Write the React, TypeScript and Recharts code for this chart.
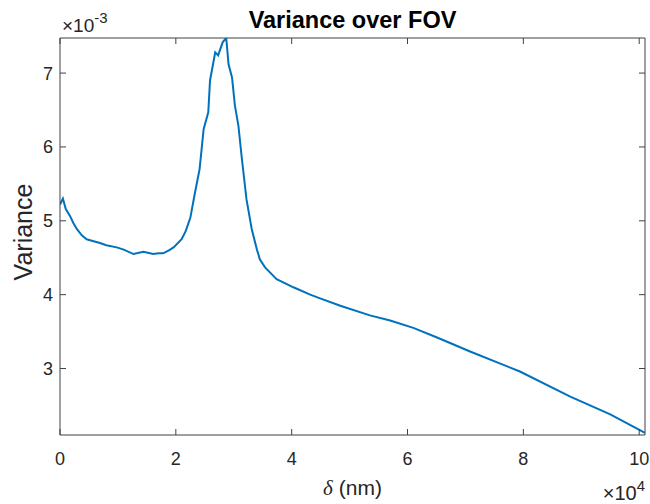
import React from "react";
import { LineChart, Line, XAxis, YAxis } from "recharts";

// delta in nm, variance (raw)
const deltaNm = [
  0, 500, 1000, 1700, 2300, 2900, 3800, 4600, 5500, 6900, 8000, 9800, 11000,
  12700, 14400, 16100, 17000, 17800, 18800, 19600, 21000, 21700, 22500, 23300,
  24100, 24800, 25600, 25900, 26800, 27300, 28100, 28700, 29100, 29700, 30200,
  30800, 31400, 32200, 33100, 34000, 34500, 35400, 37400, 40300, 43200, 44900,
  48400, 53500, 57000, 61000, 65100, 70800, 79400, 88100, 95000, 101000,
];
const variance = [
  5.22e-3, 5.3e-3, 5.16e-3, 5.07e-3, 4.97e-3, 4.89e-3, 4.8e-3, 4.75e-3,
  4.73e-3, 4.7e-3, 4.67e-3, 4.64e-3, 4.61e-3, 4.55e-3, 4.58e-3, 4.55e-3,
  4.56e-3, 4.56e-3, 4.6e-3, 4.64e-3, 4.75e-3, 4.86e-3, 5.04e-3, 5.38e-3,
  5.7e-3, 6.24e-3, 6.47e-3, 6.9e-3, 7.28e-3, 7.24e-3, 7.42e-3, 7.475e-3,
  7.12e-3, 6.94e-3, 6.56e-3, 6.29e-3, 5.84e-3, 5.29e-3, 4.89e-3, 4.61e-3,
  4.48e-3, 4.37e-3, 4.21e-3, 4.1e-3, 4.0e-3, 3.95e-3, 3.85e-3, 3.72e-3,
  3.65e-3, 3.55e-3, 3.42e-3, 3.23e-3, 2.96e-3, 2.62e-3, 2.38e-3, 2.13e-3,
];
const xTicks = [0, 20000, 40000, 60000, 80000, 100000];
const yTicks = [3e-3, 4e-3, 5e-3, 6e-3, 7e-3];

const data = deltaNm.map((d, i) => ({ delta: d, variance: variance[i] }));

const AXIS = "#404040";
const TEXT = "#262626";
const FONT = "'Liberation Sans', Arial, sans-serif";
const TICK_LEN = 6;

const BottomTick = ({ x, y, payload }: any) => (
  <g>
    <line x1={x} y1={y} x2={x} y2={y - TICK_LEN} stroke={AXIS} />
    <text x={x} y={y + 30} textAnchor="middle" fill={TEXT} fontSize={18} fontFamily={FONT}>
      {Math.round(payload.value / 1e4)}
    </text>
  </g>
);

const TopTick = ({ x, y }: any) => (
  <line x1={x} y1={y} x2={x} y2={y + TICK_LEN} stroke={AXIS} />
);

const LeftTick = ({ x, y, payload }: any) => (
  <g>
    <line x1={x} y1={y} x2={x + TICK_LEN} y2={y} stroke={AXIS} />
    <text x={x - 7} y={y + 6.5} textAnchor="end" fill={TEXT} fontSize={18} fontFamily={FONT}>
      {Math.round(payload.value * 1e3)}
    </text>
  </g>
);

const RightTick = ({ x, y }: any) => (
  <line x1={x} y1={y} x2={x - TICK_LEN} y2={y} stroke={AXIS} />
);

export default function App() {
  return (
    <div style={{ position: "absolute", left: 0, top: 0, width: 650, height: 504, background: "#fff" }}>
      <LineChart
        width={650}
        height={504}
        data={data}
        margin={{ top: 37, right: 4, bottom: 39, left: 0 }}
      >
        <XAxis
          xAxisId="bottom"
          dataKey="delta"
          type="number"
          domain={[0, 101000]}
          ticks={xTicks}
          interval={0}
          allowDataOverflow
          height={30}
          tickSize={0}
          tickMargin={0}
          tickLine={false}
          tick={<BottomTick />}
          axisLine={{ stroke: AXIS }}
        />
        <XAxis
          xAxisId="top"
          orientation="top"
          dataKey="delta"
          type="number"
          domain={[0, 101000]}
          ticks={xTicks}
          interval={0}
          allowDataOverflow
          height={1}
          tickSize={0}
          tickMargin={0}
          tickLine={false}
          tick={<TopTick />}
          axisLine={{ stroke: AXIS }}
        />
        <YAxis
          yAxisId="left"
          type="number"
          domain={[2.1e-3, 7.475e-3]}
          ticks={yTicks}
          interval={0}
          allowDataOverflow
          width={60}
          tickSize={0}
          tickMargin={0}
          tickLine={false}
          tick={<LeftTick />}
          axisLine={{ stroke: AXIS }}
        />
        <YAxis
          yAxisId="right"
          orientation="right"
          type="number"
          domain={[2.1e-3, 7.475e-3]}
          ticks={yTicks}
          interval={0}
          allowDataOverflow
          width={1}
          tickSize={0}
          tickMargin={0}
          tickLine={false}
          tick={<RightTick />}
          axisLine={{ stroke: AXIS }}
        />
        <Line
          xAxisId="bottom"
          yAxisId="left"
          type="linear"
          dataKey="variance"
          stroke="#0072BD"
          strokeWidth={2}
          dot={false}
          isAnimationActive={false}
        />
        <Line
          xAxisId="top"
          yAxisId="right"
          type="linear"
          dataKey="variance"
          stroke="none"
          dot={false}
          isAnimationActive={false}
        />
      </LineChart>
      <svg
        width={650}
        height={504}
        style={{ position: "absolute", left: 0, top: 0, pointerEvents: "none" }}
        fontFamily={FONT}
        fill={TEXT}
      >
        <text x={352.5} y={28} textAnchor="middle" fontSize={23.5} fontWeight="bold" fill="#000">
          Variance over FOV
        </text>
        <text x={32} y={232} textAnchor="middle" fontSize={25} transform="rotate(-90, 32, 232)">
          Variance
        </text>
        <text x={352.5} y={495} textAnchor="middle" fontSize={21}>
          <tspan fontStyle="italic" fontFamily="'Liberation Serif', serif">δ</tspan> (nm)
        </text>
        <text x={62} y={32} fontSize={19}>
          ×10
          <tspan dy={-9} fontSize={15}>-3</tspan>
        </text>
        <text x={645} y={500} textAnchor="end" fontSize={20}>
          ×10
          <tspan dy={-9} fontSize={15}>4</tspan>
        </text>
      </svg>
    </div>
  );
}
